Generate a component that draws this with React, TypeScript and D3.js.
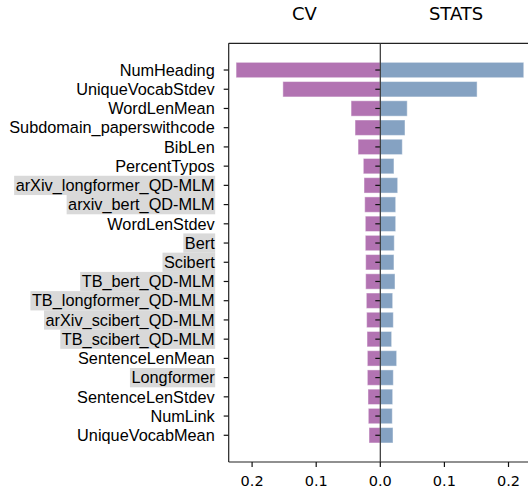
import * as d3 from "d3"

const features = [
  "NumHeading",
  "UniqueVocabStdev",
  "WordLenMean",
  "Subdomain_paperswithcode",
  "BibLen",
  "PercentTypos",
  "arXiv_longformer_QD-MLM",
  "arxiv_bert_QD-MLM",
  "WordLenStdev",
  "Bert",
  "Scibert",
  "TB_bert_QD-MLM",
  "TB_longformer_QD-MLM",
  "arXiv_scibert_QD-MLM",
  "TB_scibert_QD-MLM",
  "SentenceLenMean",
  "Longformer",
  "SentenceLenStdev",
  "NumLink",
  "UniqueVocabMean",
]

const cvValues = [
  0.225, 0.152, 0.0456, 0.0394, 0.0347, 0.0265, 0.0254, 0.0243, 0.0234, 0.0234,
  0.0228, 0.0228, 0.0218, 0.0213, 0.0207, 0.0202, 0.0202, 0.0192, 0.0187, 0.0176,
]

const statsValues = [
  0.2238, 0.151, 0.042, 0.0385, 0.0343, 0.0213, 0.0271, 0.024, 0.024, 0.0218,
  0.0213, 0.0229, 0.0193, 0.0203, 0.0177, 0.0255, 0.0203, 0.0193, 0.0187, 0.0198,
]

const highlighted = [
  "arXiv_longformer_QD-MLM",
  "arxiv_bert_QD-MLM",
  "Bert",
  "Scibert",
  "TB_bert_QD-MLM",
  "TB_longformer_QD-MLM",
  "arXiv_scibert_QD-MLM",
  "TB_scibert_QD-MLM",
  "Longformer",
]

const xTicks = [-0.2, -0.1, 0, 0.1, 0.2]
const panelTitles = ["CV", "STATS"]

const width = 528
const height = 490
const left = 228.7
const top = 43.3
const bottom = 462
const limit = 0.2365

const cvColor = "rgb(178,115,178)"
const statsColor = "rgb(133,162,194)"
const labelFont = "'Liberation Sans', Arial, Helvetica, sans-serif"
const axisFont = "'DejaVu Sans', sans-serif"

export default function App() {
  const x = d3.scaleLinear().domain([-limit, limit]).range([left, left + 2 * (380.3 - left)])
  // matplotlib-style margins around 0.8-high bars
  const y = d3.scaleLinear().domain([-1.39, features.length - 1 + 1.39]).range([top, bottom])
  const barH = (y(1) - y(0)) * 0.8
  const x0 = x(0)
  const right = x(limit)

  return (
    <svg
      width={width}
      height={height}
      style={{ position: "absolute", left: 0, top: 0, background: "white" }}
    >
      {/* titles */}
      {panelTitles.map((t, i) => (
        <text
          key={t}
          x={i === 0 ? (left + x0) / 2 : (x0 + right) / 2}
          y={20}
          textAnchor="middle"
          fontFamily={axisFont}
          fontSize={18}
          fill="#000"
        >
          {t}
        </text>
      ))}

      {/* bars */}
      {features.map((f, i) => (
        <g key={f}>
          <rect
            x={x(-cvValues[i])}
            y={y(i) - barH / 2}
            width={x0 - x(-cvValues[i])}
            height={barH}
            fill={cvColor}
            stroke="white"
            strokeOpacity={0.45}
            strokeWidth={1}
          />
          <rect
            x={x0}
            y={y(i) - barH / 2}
            width={x(statsValues[i]) - x0}
            height={barH}
            fill={statsColor}
            stroke="white"
            strokeOpacity={0.45}
            strokeWidth={1}
          />
        </g>
      ))}

      {/* y labels with highlight boxes */}
      {features.map((f, i) => {
        const isHi = highlighted.includes(f)
        return (
          <g key={"lab" + f}>
            {isHi && (
              <rect
                x={left - 14}
                y={y(i) - 9.6}
                width={0}
                height={19.3}
                fill="#d9d9d9"
                className="hibox"
                data-label={f}
              />
            )}
            <text
              x={left - 14}
              y={y(i)}
              dy="0.35em"
              textAnchor="end"
              fontFamily={labelFont}
              fontSize={16.3}
              fill="#000"
              className="ylab"
              data-label={f}
            >
              {f}
            </text>
          </g>
        )
      })}

      {/* y ticks on left spine and at center */}
      {features.map((f, i) => (
        <g key={"tk" + f} stroke="#111" strokeWidth={1.2}>
          <line x1={left - 5} x2={left} y1={y(i)} y2={y(i)} />
          <line x1={x0 - 5} x2={x0} y1={y(i)} y2={y(i)} />
        </g>
      ))}

      {/* spines */}
      <line x1={left} x2={left} y1={top} y2={bottom} stroke="#222" strokeWidth={1.2} />
      <line x1={left} x2={right} y1={top} y2={top} stroke="#222" strokeWidth={1.2} />
      <line x1={left} x2={right} y1={bottom} y2={bottom} stroke="#222" strokeWidth={1.2} />
      <line x1={x0} x2={x0} y1={top} y2={bottom} stroke="#333" strokeWidth={1.2} />

      {/* x axis */}
      {xTicks.map((t) => (
        <g key={"x" + t}>
          <line x1={x(t)} x2={x(t)} y1={bottom} y2={bottom + 5} stroke="#111" strokeWidth={1.2} />
          <text
            x={x(t)}
            y={bottom + 24}
            textAnchor="middle"
            fontFamily={axisFont}
            fontSize={14.5}
            fill="#000"
          >
            {d3.format(".1f")(Math.abs(t))}
          </text>
        </g>
      ))}
      <HighlightFix />
    </svg>
  )
}

// sizes the grey label boxes to the rendered text width
function HighlightFix() {
  return (
    <g
      ref={(node) => {
        if (!node) return
        const svg = node.ownerSVGElement
        if (!svg) return
        svg.querySelectorAll("rect.hibox").forEach((r) => {
          const name = r.getAttribute("data-label")
          const t = Array.from(svg.querySelectorAll("text.ylab")).find(
            (el) => el.getAttribute("data-label") === name
          ) as SVGTextElement | undefined
          if (!t) return
          const w = t.getComputedTextLength()
          const xr = Number(t.getAttribute("x"))
          r.setAttribute("x", String(xr - w - 1.5))
          r.setAttribute("width", String(w + 2))
        })
      }}
    />
  )
}
